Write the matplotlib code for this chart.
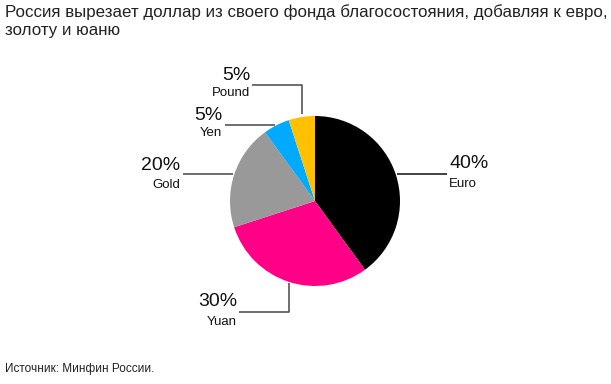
import matplotlib
matplotlib.use("Agg")
import matplotlib.pyplot as plt
import numpy as np

plt.rcParams['font.family'] = ['Liberation Sans', 'DejaVu Sans']

labels = ["Euro", "Yuan", "Gold", "Yen", "Pound"]
values = [40, 30, 20, 5, 5]
colors = ["#000000", "#ff0087", "#999999", "#00aaff", "#ffc000"]
title = "Россия вырезает доллар из своего фонда благосостояния, добавляя к евро,\nзолоту и юаню"
source = "Источник: Минфин России."

W, H = 611, 384
fig = plt.figure(figsize=(W / 100, H / 100), dpi=100)
ax = fig.add_axes([0, 0, 1, 1])
ax.set_xlim(0, W)
ax.set_ylim(0, H)
ax.axis('off')

cx, cy, r = 315, H - 201, 85
wedges, _ = ax.pie(values, colors=colors, startangle=90, counterclock=False,
                   center=(cx, cy), radius=r, wedgeprops=dict(linewidth=0))
ax.set_xlim(0, W)
ax.set_ylim(0, H)
ax.set_aspect('auto')

# leader line layouts: (path in pixel coords, text x, align, pct y, name y)
layout = {
    "Euro":  ([(397, 174), (447, 174)], 449, 'left', 164, 184),
    "Yuan":  ([(289, 283), (289, 312), (239, 312)], 237, 'right', 302, 322),
    "Gold":  ([(233, 174), (183, 174)], 180, 'right', 165, 185),
    "Yen":   ([(275, 125), (225, 125)], 222, 'right', 116, 133),
    "Pound": ([(302, 114), (302, 85), (252, 85)], 250, 'right', 75, 93),
}
for lab, val in zip(labels, values):
    path, tx, ha, py, ny = layout[lab]
    xs = [p[0] for p in path]
    ys = [H - p[1] for p in path]
    ax.plot(xs, ys, color="#555555" if lab != "Euro" else "#222222", lw=1.2,
            solid_capstyle='butt')
    ax.text(tx, H - py, f"{val}%", ha=ha, va='center', fontsize=14, color='#111111')
    ax.text(tx, H - ny, lab, ha=ha, va='center', fontsize=9.5, color='#111111')

fig.text(5 / W, 1 - 4 / H, title, ha='left', va='top', fontsize=12.2,
         color='#222222', linespacing=1.25)
fig.text(5 / W, 1 - 369 / H, source, ha='left', va='center', fontsize=8.5,
         color='#222222')

fig.savefig("out.png", dpi=100)
